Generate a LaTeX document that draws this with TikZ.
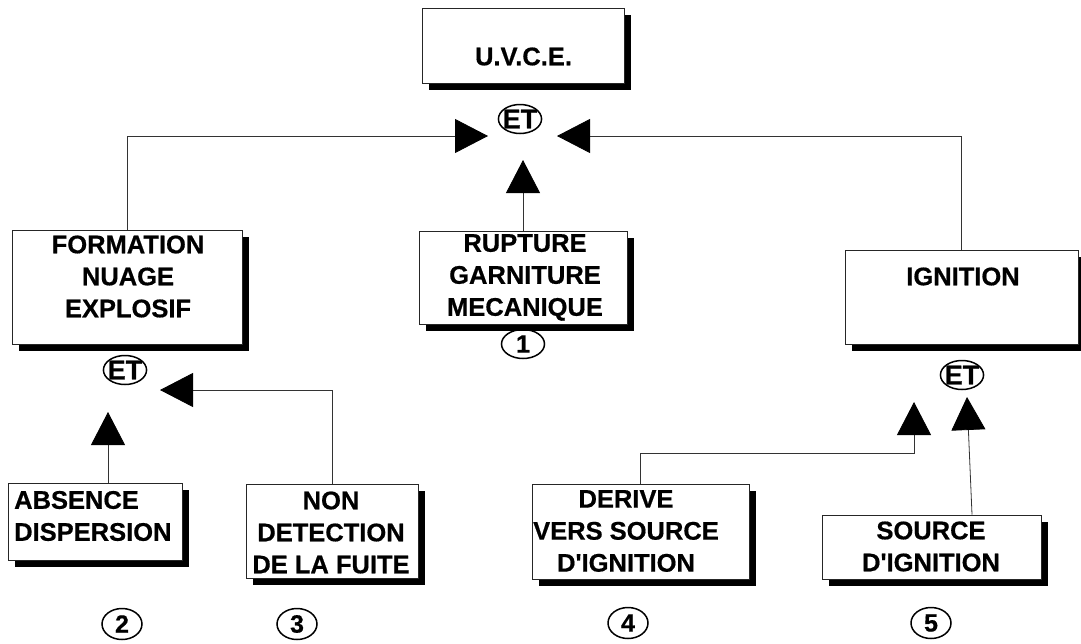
\documentclass[tikz,border=0pt]{standalone}
\usepackage{fontspec}
\setmainfont{Liberation Sans}[BoldFeatures={FakeBold=0.6}]
\usetikzlibrary{arrows.meta,shapes.geometric,shadows,calc}
\begin{document}
\begin{tikzpicture}[x=1pt,y=-1pt,
  box/.style={draw=black!85, line width=0.8pt, fill=white, inner sep=0pt,
     drop shadow={shadow xshift=7pt,shadow yshift=-7pt,fill=black,opacity=1}},
  lbl/.style={font=\fontsize{25.5}{32}\selectfont\bfseries, align=center, inner sep=0pt},
  gate/.style={ellipse, draw, line width=1.5pt, inner xsep=-2pt, inner ysep=0pt, minimum width=43pt, minimum height=29pt, font=\fontsize{27}{28}\selectfont\bfseries},
  num/.style={ellipse, draw, line width=1.5pt, inner sep=0pt, minimum width=40pt, minimum height=31pt, font=\fontsize{25}{28}\selectfont\bfseries},
  conn/.style={draw=black!80, line width=0.8pt},
  arr/.style={conn, -{Triangle[length=33pt,width=34pt,color=black]}},
]
\useasboundingbox[fill=white] (0,0) rectangle (1081,643);

% boxes
\node[box, minimum width=202pt, minimum height=75pt] (uvce) at (523,45.5) {};
\node[lbl] (uvcet) at (523.5,56.5) {U.V.C.E.};

\node[box, minimum width=230pt, minimum height=114pt] (form) at (127,287) {};
\node[lbl] (formt) at (128,276.5) {FORMATION\\NUAGE\\EXPLOSIF};

\node[box, minimum width=208pt, minimum height=93pt] (rup) at (523,277.5) {};
\node[lbl] (rupt) at (525,277.5) {RUPTURE\\GARNITURE\\MECANIQUE};

\node[box, minimum width=233pt, minimum height=94pt] (ign) at (961.5,297) {};
\node[lbl] (ignt) at (963,276.5) {IGNITION};

\node[box, minimum width=174pt, minimum height=77pt] (abs) at (95,521.5) {};
\node[lbl, align=left, anchor=west] (abst) at (14,516) {ABSENCE\\DISPERSION};

\node[box, minimum width=172pt, minimum height=94pt] (non) at (332,531) {};
\node[lbl] (nont) at (331,532.5) {NON\\DETECTION\\DE LA FUITE};

\node[box, minimum width=217pt, minimum height=95pt] (der) at (640.5,531.5) {};
\node[lbl] (dert) at (626,531) {DERIVE\\VERS SOURCE\\D\textquotesingle IGNITION};

\node[box, minimum width=219pt, minimum height=64pt] (src) at (931.5,547) {};
\node[lbl] (srct) at (931,546.5) {SOURCE\\D\textquotesingle IGNITION};

% gates
\node[gate] (et1) at (520,119) {ET};
\node[gate] (et2) at (125,370) {ET};
\node[gate] (et3) at (962,375) {ET};

% numbers
\node[num, minimum width=43pt, minimum height=29pt] (n1) at (523,344) {1};
\node[num] (n2) at (122,624) {2};
\node[num] (n3) at (297,624) {3};
\node[num] (n4) at (628,623) {4};
\node[num] (n5) at (931,623) {5};

% connectors
\coordinate (t1) at (488,136);
\coordinate (t2) at (557,136);
\coordinate (t3) at (523,160);
\coordinate (t4) at (160,390);
\coordinate (t5) at (108,412);
\coordinate (t6) at (914,402);
\coordinate (b6) at (914,453);
\coordinate (t7) at (967,397);

\draw[arr] (form.north) |- (t1);
\draw[arr] (ign.north) |- (t2);
\draw[arr] (rup.north) -- (t3);
\draw[arr] (non.north) |- (t4);
\draw[arr] ($(abs.north)+(13,0)$) -- (t5);
\draw[arr] (der.north) |- (b6) -- (t6);
\draw[arr] ($(src.north)+(40.5,0)$) -- (t7);
\end{tikzpicture}
\end{document}
